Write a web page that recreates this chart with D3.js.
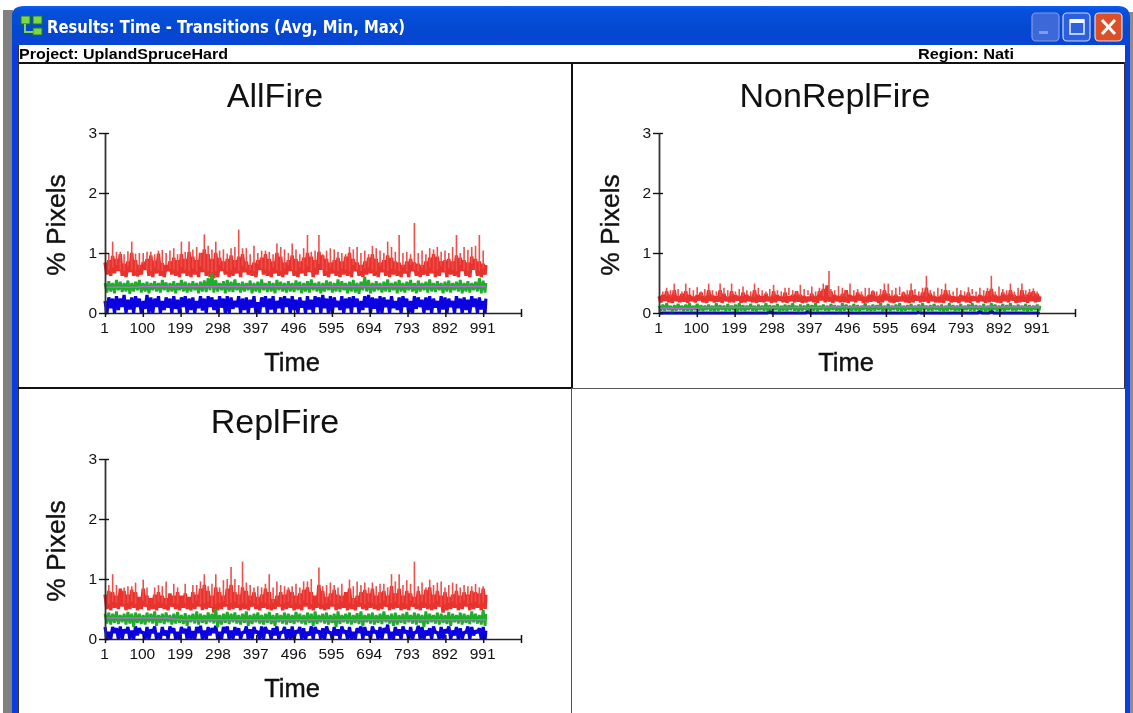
<!DOCTYPE html>
<html>
<head>
<meta charset="utf-8">
<script src="https://cdn.jsdelivr.net/npm/d3@7/dist/d3.min.js"></script>
<style>
    html, body { margin: 0; padding: 0; background: #fff; overflow: hidden; }
    text { font-family: "Liberation Sans", Arial, sans-serif; }
    svg { filter: blur(0.35px); }
</style>
</head>
<body>
<div class="chart"></div>
<script>
// Values, one high/low pair per 10 time steps

var xTicks = [1, 100, 199, 298, 397, 496, 595, 694, 793, 892, 991, 1090];
var yTicks = [0, 1, 2, 3];
var sampleTimes = [1,11,21,31,41,51,61,71,81,91,101,111,121,131,141,151,161,171,181,191,201,211,221,231,241,251,261,271,281,291,301,311,321,331,341,351,361,371,381,391,401,411,421,431,441,451,461,471,481,491,501,511,521,531,541,551,561,571,581,591,601,611,621,631,641,651,661,671,681,691,701,711,721,731,741,751,761,771,781,791,801,811,821,831,841,851,861,871,881,891,901,911,921,931,941,951,961,971,981,991,998];

// AllFire
var allRedTop = [.84,.88,.95,.9,.98,.82,.86,1.0,.88,.8,.85,.9,.96,.87,.99,.83,.8,.86,.92,.88,.98,.9,1.02,.94,.88,1.0,1.06,.98,.9,1.0,.92,.86,.9,.96,.88,.94,.98,.86,.8,.84,.88,.92,.98,.9,.86,1.0,.94,.84,.88,.96,.9,.86,.92,1.0,.94,.88,1.02,.96,.9,.84,.88,.92,.86,.94,1.0,.9,.84,.8,.86,.92,.98,.9,.84,.88,.96,.92,.86,.84,.8,.86,.9,.84,.82,.8,.86,.92,.98,.94,.86,.88,.9,.86,.96,.92,.88,.84,.94,.9,.86,.82,.8];
var allRedBottom = [.64,.62,.66,.7,.62,.6,.68,.62,.61,.64,.72,.62,.6,.66,.62,.6,.7,.64,.62,.6,.66,.62,.6,.64,.6,.68,.62,.6,.58,.6,.7,.64,.6,.62,.66,.6,.68,.64,.62,.6,.72,.64,.62,.6,.66,.62,.6,.64,.7,.62,.6,.66,.62,.68,.6,.64,.72,.62,.6,.66,.62,.6,.64,.62,.6,.7,.62,.6,.64,.66,.62,.6,.68,.62,.6,.64,.62,.6,.66,.6,.7,.62,.6,.64,.62,.66,.6,.62,.68,.6,.64,.62,.6,.7,.62,.6,.72,.62,.6,.64,.62];
var allRedSpikeTimes = [21,41,71,101,121,141,201,221,241,261,291,311,351,371,421,451,491,531,561,601,641,701,741,771,811,871,921,961,981,31,91,171,281,331,391,471,521,581,661,721,791,851,891,941,11,51,61,81,111,131,151,161,181,191,211,231,251,271,301,321,341,361,381,401,411,431,441,461,481,501,511,541,551,571,591,611,621,631,651,671,681,691,711,731,751,761,781,801,821,831,841,861,881,901,911,931,951,971,991];
var allRedSpikeValues = [1.19,1.02,1.19,1.0,1.02,1.04,1.19,1.19,1.1,1.31,1.19,1.06,1.39,1.08,1.04,1.16,1.16,1.3,1.3,1.06,1.1,1.12,1.19,1.3,1.5,1.1,1.3,1.1,1.3,1.02,1.0,1.04,1.06,1.08,1.12,1.06,1.08,1.04,1.1,1.04,1.02,1.08,1.04,1.1,1.0,.98,1.03,.99,1.02,.98,1.05,1.0,1.08,.98,1.02,1.06,1.0,1.12,1.04,.99,1.1,1.08,.98,1.0,1.04,1.02,.98,1.1,1.0,1.06,.98,1.02,1.04,.98,1.08,1.02,1.0,.98,1.06,1.0,1.04,.98,1.08,1.0,1.1,1.02,1.0,.98,1.0,1.04,.98,1.06,1.02,1.0,1.1,1.0,1.05,1.12,1.04];
var allGreenTop = [.5,.53,.5,.55,.52,.5,.54,.5,.52,.55,.5,.52,.5,.53,.5,.55,.51,.5,.53,.5,.55,.52,.5,.53,.5,.52,.54,.58,.66,.55,.5,.53,.55,.52,.56,.5,.52,.5,.54,.5,.52,.56,.5,.53,.5,.55,.52,.5,.53,.5,.54,.52,.5,.53,.56,.5,.52,.5,.54,.52,.5,.56,.53,.5,.52,.55,.5,.52,.6,.55,.5,.53,.5,.52,.56,.5,.52,.55,.5,.52,.55,.5,.54,.5,.52,.56,.5,.53,.5,.52,.54,.5,.52,.55,.5,.53,.5,.52,.58,.54,.5];
var allGreenBottom = [.34,.36,.33,.38,.35,.36,.32,.36,.38,.34,.36,.33,.38,.36,.34,.38,.35,.36,.33,.38,.36,.34,.36,.38,.33,.36,.35,.38,.34,.36,.38,.33,.36,.35,.38,.34,.36,.38,.33,.36,.34,.38,.35,.36,.33,.38,.36,.34,.36,.35,.38,.33,.36,.34,.38,.36,.33,.36,.38,.34,.36,.35,.38,.33,.36,.34,.32,.38,.36,.33,.36,.38,.34,.36,.35,.38,.33,.36,.34,.38,.36,.33,.36,.38,.34,.36,.35,.38,.33,.36,.34,.38,.36,.33,.36,.34,.38,.36,.33,.34,.36];
var allBlueTop = [.2,.26,.24,.28,.24,.3,.22,.26,.28,.24,.2,.3,.26,.24,.28,.2,.26,.24,.28,.22,.26,.28,.24,.26,.2,.28,.24,.28,.26,.22,.28,.24,.28,.26,.2,.28,.24,.26,.22,.28,.18,.26,.28,.24,.28,.2,.26,.28,.24,.28,.22,.26,.2,.28,.22,.28,.26,.3,.24,.28,.26,.2,.28,.24,.26,.28,.24,.2,.28,.3,.26,.24,.28,.26,.22,.28,.2,.26,.28,.24,.2,.28,.26,.22,.26,.28,.24,.2,.28,.26,.24,.2,.28,.24,.26,.22,.28,.24,.26,.2,.24];
var allBlueBottom = [0,.08,0,.05,.1,0,.06,0,.1,0,.07,0,0,.1,0,.05,.09,0,.07,0,.1,0,.05,0,.08,.04,0,.1,.05,0,.09,0,0,.07,.1,0,.05,0,.09,0,0,.1,0,.06,0,.08,0,.1,0,.05,0,.09,0,.06,0,.1,0,.08,0,0,.1,.05,0,.08,0,.1,0,.05,.09,0,.07,0,0,.1,0,.08,.05,0,.1,0,0,.07,.1,0,.05,0,.09,0,.06,0,.1,0,.08,0,.05,0,.1,0,.06,0,0];
var allPurpleTimes = [1, 85, 100, 998];
var allPurpleValues = [.43, .43, .44, .44];

// NonReplFire
var nonRedTop = [.28,.3,.36,.3,.38,.28,.32,.36,.3,.27,.3,.34,.28,.38,.3,.28,.38,.32,.27,.36,.3,.28,.34,.3,.27,.38,.3,.28,.32,.27,.36,.3,.27,.34,.28,.3,.36,.3,.28,.27,.32,.28,.36,.4,.46,.36,.3,.28,.32,.38,.3,.28,.34,.3,.27,.3,.36,.28,.3,.38,.32,.28,.3,.27,.34,.3,.38,.3,.28,.34,.42,.32,.28,.27,.3,.38,.3,.28,.27,.3,.28,.34,.28,.27,.3,.28,.36,.4,.3,.28,.34,.3,.38,.3,.28,.38,.3,.34,.36,.32,.28];
var nonRedBottom = [.18,.2,.18,.17,.2,.18,.19,.17,.2,.18,.21,.18,.17,.2,.18,.19,.17,.2,.18,.18,.21,.17,.18,.2,.18,.17,.19,.18,.2,.17,.18,.21,.18,.17,.2,.18,.19,.17,.18,.2,.18,.17,.21,.18,.19,.17,.2,.18,.18,.17,.2,.18,.21,.17,.18,.19,.2,.17,.18,.21,.18,.17,.19,.2,.18,.17,.18,.21,.18,.19,.17,.2,.18,.18,.17,.21,.18,.19,.17,.2,.18,.17,.21,.18,.2,.17,.18,.19,.18,.17,.2,.18,.21,.17,.18,.19,.17,.2,.18,.19,.18];
var nonRedSpikeTimes = [41,71,131,161,191,251,301,371,431,446,501,591,601,661,701,751,871,921,951,981,21,101,221,341,401,471,541,631,731,811,841,891,11,31,51,61,81,91,111,121,141,151,171,181,201,211,231,241,261,271,281,291,311,321,331,351,361,381,391,411,421,451,461,481,491,511,521,531,551,561,571,581,611,621,641,651,671,681,691,711,721,741,761,771,781,791,801,821,831,851,861,881,901,911,931,941,961,971,991];
var nonRedSpikeValues = [.49,.49,.49,.49,.49,.49,.47,.47,.49,.7,.49,.49,.49,.49,.62,.49,.62,.49,.49,.41,.42,.43,.44,.42,.44,.45,.42,.44,.42,.43,.42,.44,.36,.38,.4,.36,.42,.38,.36,.4,.38,.36,.42,.38,.36,.4,.38,.36,.42,.38,.36,.4,.38,.36,.42,.38,.36,.4,.38,.36,.42,.4,.38,.42,.36,.38,.4,.36,.42,.38,.36,.4,.38,.42,.36,.38,.4,.36,.42,.38,.36,.4,.38,.36,.42,.38,.36,.4,.36,.38,.42,.36,.4,.38,.36,.42,.38,.4,.36];
var nonGreenTop = [.12,.14,.16,.12,.13,.15,.12,.14,.16,.12,.15,.13,.12,.14,.12,.16,.13,.12,.15,.12,.14,.16,.13,.12,.15,.12,.14,.12,.16,.13,.12,.15,.12,.14,.13,.16,.12,.14,.12,.15,.13,.16,.12,.14,.12,.15,.13,.12,.16,.14,.12,.15,.13,.12,.16,.12,.14,.13,.16,.12,.15,.12,.14,.16,.12,.13,.15,.12,.14,.16,.12,.13,.15,.12,.14,.12,.16,.13,.12,.15,.12,.14,.16,.13,.12,.15,.12,.16,.14,.12,.15,.13,.16,.12,.14,.12,.15,.13,.12,.14,.12];
var nonGreenBottom = [.04,.03,.05,.02,.04,.05,.03,.04,.02,.05,.04,.03,.05,.04,.02,.04,.05,.03,.04,.05,.02,.04,.03,.05,.04,.02,.05,.04,.03,.04,.05,.02,.04,.03,.05,.04,.02,.04,.05,.03,.04,.02,.05,.04,.03,.05,.04,.02,.04,.05,.03,.04,.02,.05,.04,.03,.04,.05,.02,.04,.03,.05,.04,.02,.04,.05,.03,.04,.02,.05,.04,.03,.05,.04,.02,.04,.05,.03,.04,.02,.05,.04,.03,.05,.04,.02,.04,.05,.03,.04,.02,.05,.04,.03,.05,.04,.02,.04,.05,.04,.04];
var nonBlueTop = [0,0,0,0,0,0,0,0,0,0,0,0,0,0,0,0,0,0,0,0,0,0,0,0,0,0,0,0,0,.05,0,0,0,0,0,0,0,0,0,.03,0,0,0,0,0,0,0,0,0,0,0,0,0,0,0,0,0,0,0,0,0,0,0,0,0,0,0,0,.02,0,0,0,0,0,0,0,0,0,0,0,0,0,0,0,.03,0,0,.05,0,0,0,0,0,0,0,0,0,0,0,0,0];
var nonBlueBottom = [0,0,0,0,0,0,0,0,0,0,0,0,0,0,0,0,0,0,0,0,0,0,0,0,0,0,0,0,0,0,0,0,0,0,0,0,0,0,0,0,0,0,0,0,0,0,0,0,0,0,0,0,0,0,0,0,0,0,0,0,0,0,0,0,0,0,0,0,0,0,0,0,0,0,0,0,0,0,0,0,0,0,0,0,0,0,0,0,0,0,0,0,0,0,0,0,0,0,0,0,0];
var nonPurpleTimes = [1, 100, 115, 430, 445, 998];
var nonPurpleValues = [.08, .08, .09, .09, .1, .1];

// ReplFire
var repRedTop = [.74,.8,.78,.72,.84,.8,.74,.82,.78,.7,.84,.72,.68,.74,.78,.72,.68,.76,.72,.78,.72,.76,.7,.78,.74,.84,.9,.8,.72,.86,.78,.72,.84,.9,.78,.74,.86,.8,.72,.78,.7,.74,.84,.78,.66,.72,.78,.74,.82,.78,.72,.76,.82,.86,.78,.72,.9,.8,.7,.76,.82,.74,.72,.78,.84,.68,.72,.78,.82,.76,.84,.72,.78,.8,.72,.88,.76,.84,.72,.8,.76,.7,.8,.74,.82,.86,.74,.8,.72,.78,.7,.74,.8,.72,.78,.74,.8,.78,.76,.84,.74];
var repRedBottom = [.5,.48,.52,.5,.54,.48,.5,.52,.48,.5,.54,.48,.5,.48,.52,.5,.48,.54,.5,.48,.52,.5,.48,.5,.54,.48,.5,.52,.44,.48,.5,.54,.48,.5,.52,.48,.5,.48,.54,.5,.48,.52,.5,.48,.5,.54,.48,.5,.52,.48,.5,.48,.54,.5,.48,.52,.5,.48,.5,.54,.48,.5,.52,.48,.5,.48,.54,.5,.48,.52,.5,.48,.5,.54,.48,.5,.52,.48,.5,.48,.54,.5,.48,.52,.5,.48,.5,.54,.44,.48,.5,.52,.48,.5,.54,.48,.5,.52,.48,.5,.5];
var repRedSpikeTimes = [21,101,261,291,331,341,361,431,561,641,751,771,811,851,921,991,31,71,131,181,231,311,381,411,471,521,601,681,721,791,871,951,11,51,61,81,111,141,151,161,191,211,241,251,271,281,301,321,351,371,391,401,421,441,451,461,481,491,501,511,531,541,571,581,591,611,621,651,661,671,691,701,711,731,741,761,781,801,821,831,841,861,881,891,901,911,931,941,961,971,981];
var repRedSpikeValues = [1.08,.99,1.08,1.08,1.2,1.0,1.29,1.08,1.19,.99,1.08,1.08,1.29,.99,.92,.88,.9,.88,.86,.92,.9,.98,.9,.86,.88,.96,.9,.94,.92,.98,.94,.88,.9,.86,.88,.94,.86,.9,.88,.96,.86,.92,.9,.96,.88,.92,.86,1.0,.9,.94,.86,.88,.92,.86,.96,.9,.86,.88,.92,.86,.96,1.0,.88,.9,.94,.86,.92,.88,.96,.9,.86,.94,.88,.92,.86,.96,.9,.92,.88,.94,.86,.9,.96,.86,.9,.94,.86,.9,.88,.92,.86];
var repGreenTop = [.42,.44,.42,.46,.4,.42,.45,.42,.44,.42,.4,.44,.42,.46,.4,.42,.44,.4,.42,.45,.4,.43,.4,.42,.46,.42,.4,.44,.42,.5,.4,.42,.45,.42,.44,.4,.42,.46,.4,.42,.44,.4,.42,.45,.4,.43,.4,.44,.42,.4,.45,.42,.4,.44,.42,.46,.4,.42,.44,.4,.42,.46,.4,.42,.44,.4,.43,.46,.4,.42,.44,.4,.42,.46,.4,.42,.44,.4,.42,.45,.4,.44,.42,.4,.46,.42,.4,.44,.42,.4,.45,.42,.4,.44,.42,.4,.46,.42,.4,.48,.42];
var repGreenBottom = [.26,.24,.27,.25,.28,.24,.26,.2,.27,.25,.24,.28,.26,.22,.27,.25,.28,.24,.26,.27,.25,.22,.28,.26,.24,.27,.25,.28,.26,.2,.24,.27,.25,.28,.26,.24,.27,.22,.25,.28,.26,.24,.27,.25,.22,.28,.26,.24,.27,.25,.28,.26,.24,.27,.22,.25,.28,.26,.24,.27,.2,.25,.28,.26,.24,.27,.25,.22,.28,.26,.24,.27,.25,.28,.26,.22,.24,.27,.25,.28,.26,.24,.27,.2,.25,.28,.26,.24,.27,.25,.22,.28,.26,.24,.27,.25,.28,.26,.24,.22,.26];
var repBlueTop = [.2,.12,.2,.18,.21,.16,.2,.14,.21,.18,.12,.2,.16,.21,.1,.2,.14,.21,.18,.12,.2,.17,.21,.13,.2,.22,.14,.2,.18,.22,.12,.2,.21,.14,.2,.18,.12,.21,.16,.2,.13,.21,.2,.14,.18,.21,.12,.2,.16,.21,.14,.2,.18,.12,.21,.2,.14,.18,.21,.12,.2,.16,.21,.14,.2,.12,.18,.21,.2,.13,.21,.14,.2,.18,.24,.12,.2,.16,.21,.14,.2,.12,.22,.2,.14,.18,.21,.12,.2,.16,.21,.14,.2,.18,.12,.21,.2,.14,.18,.2,.14];
var repBlueBottom = [0,0,.1,0,0,.1,0,0,.06,.1,0,0,.1,0,0,.06,0,.1,0,0,.1,0,0,0,.1,0,0,.06,.1,0,0,.1,0,0,.06,0,.1,0,0,.1,0,0,.1,0,.06,0,.1,0,0,0,.1,0,0,.06,0,.1,0,0,.1,0,.06,0,.1,0,0,0,.1,0,.06,0,.1,0,0,.1,0,0,.06,0,.1,0,0,.1,0,0,.06,0,.1,0,0,.1,0,.06,0,0,.1,0,.06,.1,0,0,0];
var repPurpleTimes = [1, 160, 200, 998];
var repPurpleValues = [.35, .35, .32, .32];

var panels = [
    { name: "AllFire", col: 0, row: 0, redTop: allRedTop, redBottom: allRedBottom, spikeTimes: allRedSpikeTimes, spikeValues: allRedSpikeValues, greenTop: allGreenTop, greenBottom: allGreenBottom, blueTop: allBlueTop, blueBottom: allBlueBottom, purpleTimes: allPurpleTimes, purpleValues: allPurpleValues },
    { name: "NonReplFire", col: 1, row: 0, redTop: nonRedTop, redBottom: nonRedBottom, spikeTimes: nonRedSpikeTimes, spikeValues: nonRedSpikeValues, greenTop: nonGreenTop, greenBottom: nonGreenBottom, blueTop: nonBlueTop, blueBottom: nonBlueBottom, purpleTimes: nonPurpleTimes, purpleValues: nonPurpleValues },
    { name: "ReplFire", col: 0, row: 1, redTop: repRedTop, redBottom: repRedBottom, spikeTimes: repRedSpikeTimes, spikeValues: repRedSpikeValues, greenTop: repGreenTop, greenBottom: repGreenBottom, blueTop: repBlueTop, blueBottom: repBlueBottom, purpleTimes: repPurpleTimes, purpleValues: repPurpleValues }
];

var svgWidth = 1133;
var svgHeight = 713;
var colWidth = 554;
var rowHeight = 326;

var svg = d3.select(".chart").append("svg")
    .attr("width", svgWidth)
    .attr("height", svgHeight)
    .style("display", "block");

var defs = svg.append("defs");
var titleGrad = defs.append("linearGradient").attr("id", "titleGrad").attr("x1", 0).attr("x2", 0).attr("y1", 0).attr("y2", 1);
titleGrad.append("stop").attr("offset", "0").attr("stop-color", "#0a5cf0");
titleGrad.append("stop").attr("offset", "0.12").attr("stop-color", "#0650dc");
titleGrad.append("stop").attr("offset", "0.6").attr("stop-color", "#0448d0");
titleGrad.append("stop").attr("offset", "1").attr("stop-color", "#0a44d4");

// window frame
svg.append("rect").attr("x", 3).attr("y", 10).attr("width", 10).attr("height", 703).attr("fill", "#808080");
svg.append("rect").attr("x", 1129).attr("y", 12).attr("width", 4).attr("height", 701).attr("fill", "#8c8c8c");
svg.append("rect").attr("x", 12).attr("y", 20).attr("width", 1118).attr("height", 693).attr("fill", "#0a3ce0");
svg.append("path")
    .attr("d", "M12,45V16Q12,6 24,6H1118Q1130,6 1130,18V45Z")
    .attr("fill", "url(#titleGrad)");
svg.append("rect").attr("x", 18).attr("y", 45).attr("width", 1107).attr("height", 668).attr("fill", "#fff");

// title bar
var icon = svg.append("g").attr("fill", "#7fd64a").attr("stroke", "#1f7a1f").attr("stroke-width", 1);
icon.append("rect").attr("x", 21).attr("y", 16).attr("width", 9).attr("height", 8);
icon.append("rect").attr("x", 33).attr("y", 16).attr("width", 9).attr("height", 8);
icon.append("rect").attr("x", 33).attr("y", 28).attr("width", 9).attr("height", 7);
icon.append("path").attr("d", "M25,24V32H33").attr("fill", "none").attr("stroke", "#7fd64a").attr("stroke-width", 2);

svg.append("text").attr("x", 47).attr("y", 33)
    .attr("fill", "#fff").attr("font-size", 17).attr("font-weight", "bold")
    .attr("textLength", 358).attr("lengthAdjust", "spacingAndGlyphs")
    .style("font-family", "'DejaVu Sans'")
    .text("Results: Time - Transitions (Avg, Min, Max)");

var buttons = [[1032, "#3c68d8", "#7f9ce8"], [1063, "#2f60dc", "#c8d8f8"], [1095, "#d9502a", "#e8d8d8"]];
svg.selectAll(".winbtn").data(buttons).enter().append("rect")
    .attr("class", "winbtn")
    .attr("x", d => d[0]).attr("y", 13).attr("width", 27).attr("height", 28).attr("rx", 4)
    .attr("fill", d => d[1]).attr("stroke", d => d[2]).attr("stroke-width", 1.2);
svg.append("rect").attr("x", 1039).attr("y", 31).attr("width", 9).attr("height", 3).attr("fill", "#7f9ce8");
svg.append("rect").attr("x", 1070).attr("y", 20).attr("width", 14).attr("height", 14).attr("fill", "none").attr("stroke", "#e8f0ff").attr("stroke-width", 1.5);
svg.append("rect").attr("x", 1070).attr("y", 19).attr("width", 14).attr("height", 4).attr("fill", "#f4f8ff");
svg.append("path").attr("d", "M1102,20L1115,34M1115,20L1102,34").attr("stroke", "#fff").attr("stroke-width", 3).attr("fill", "none");

// project bar
svg.append("text").attr("x", 19).attr("y", 59).attr("font-size", 14).attr("font-weight", "bold")
    .attr("textLength", 209).attr("lengthAdjust", "spacingAndGlyphs").text("Project: UplandSpruceHard");
svg.append("text").attr("x", 918).attr("y", 59).attr("font-size", 14).attr("font-weight", "bold")
    .attr("textLength", 96).attr("lengthAdjust", "spacingAndGlyphs").text("Region: Nati");

// panel borders
svg.append("rect").attr("x", 18).attr("y", 62).attr("width", 1107).attr("height", 2).attr("fill", "#111");
svg.append("rect").attr("x", 18).attr("y", 45).attr("width", 1).attr("height", 668).attr("fill", "#333");
svg.append("rect").attr("x", 1124).attr("y", 62).attr("width", 1).attr("height", 326).attr("fill", "#333");
svg.append("rect").attr("x", 571).attr("y", 64).attr("width", 2).attr("height", 324).attr("fill", "#111");
svg.append("rect").attr("x", 571).attr("y", 388).attr("width", 1).attr("height", 325).attr("fill", "#555");
svg.append("rect").attr("x", 18).attr("y", 387).attr("width", 553).attr("height", 2).attr("fill", "#111");
svg.append("rect").attr("x", 571).attr("y", 388).attr("width", 554).attr("height", 1).attr("fill", "#555");

var xScale = d3.scaleLinear().domain([1, 1090]).range([0, 416]);
var yScale = d3.scaleLinear().domain([0, 3]).range([0, -180]);

// each series swings between its high and its low, so draw it as one zigzag line
function zigzag(top, bottom) {
    var points = [];
    sampleTimes.forEach(function (t, i) {
        points.push([t, top[i]]);
        if (i < sampleTimes.length - 1) {
            points.push([t + 5, bottom[i]]);
        }
    });
    return d3.line()
        .x(d => xScale(d[0]))
        .y(d => yScale(d[1]))(points);
}

function drawPanel(p) {
    var g = svg.append("g")
        .attr("transform", `translate(${105 + p.col * colWidth}, ${313 + p.row * rowHeight})`);

    g.append("path").attr("d", zigzag(p.blueTop, p.blueBottom))
        .attr("fill", "none").attr("stroke", "#0a00e0").attr("stroke-width", 3.2).attr("stroke-linejoin", "bevel");
    g.append("path").attr("d", zigzag(p.redTop, p.redBottom))
        .attr("fill", "none").attr("stroke", "#e8322d").attr("stroke-width", 3.4).attr("stroke-linejoin", "bevel");

    g.selectAll(".spike").data(p.spikeTimes).enter().append("line")
        .attr("class", "spike")
        .attr("x1", d => xScale(d)).attr("x2", d => xScale(d))
        .attr("y1", (d, i) => yScale(p.redBottom[Math.round((d - 1) / 10)] + 0.1))
        .attr("y2", (d, i) => yScale(p.spikeValues[i]))
        .attr("stroke", "#ee4f4a").attr("stroke-width", 1.6);

    g.append("path").attr("d", zigzag(p.greenTop, p.greenBottom))
        .attr("fill", "none").attr("stroke", "#1fae2a").attr("stroke-width", 2.8).attr("stroke-linejoin", "bevel");

    var purpleLine = d3.line()
        .x(d => xScale(d[0]))
        .y(d => yScale(d[1]));
    g.append("path")
        .attr("d", purpleLine(p.purpleTimes.map((t, i) => [t, p.purpleValues[i]])))
        .attr("fill", "none").attr("stroke", "#b468d2").attr("stroke-width", 1.5);

    var xAxis = d3.axisBottom(xScale)
        .tickValues(xTicks)
        .tickSizeOuter(0)
        .tickFormat(d => d == 1090 ? "" : d);
    var xG = g.append("g").call(xAxis);
    xG.select(".domain").attr("stroke", "#222").attr("stroke-width", 1.5);
    xG.selectAll(".tick line").attr("y1", -4).attr("y2", 4).attr("stroke", "#111").attr("stroke-width", 1.5);
    xG.selectAll(".tick text").attr("y", 9).attr("x", -1).attr("font-size", 15.5).attr("fill", "#111")
        .style("font-family", "'Liberation Sans'");

    var yAxis = d3.axisLeft(yScale)
        .tickValues(yTicks)
        .tickSizeOuter(0)
        .tickFormat(d3.format("d"));
    var yG = g.append("g").call(yAxis);
    yG.select(".domain").attr("stroke", "#333").attr("stroke-width", 1.8);
    yG.selectAll(".tick line").attr("x1", -6).attr("x2", 4).attr("stroke", "#111").attr("stroke-width", 1.4);
    yG.selectAll(".tick text").attr("x", -8).attr("font-size", 15.5).attr("fill", "#111")
        .style("font-family", "'Liberation Sans'");

    g.append("text")
        .attr("x", 170 + (p.col ? 6 : 0)).attr("y", -206)
        .attr("text-anchor", "middle").attr("font-size", 34).attr("fill", "#111")
        .text(p.name);

    g.append("text")
        .attr("x", 187).attr("y", 58)
        .attr("text-anchor", "middle").attr("font-size", 25.5).attr("fill", "#111")
        .attr("stroke", "#111").attr("stroke-width", 0.4)
        .text("Time");

    g.append("text")
        .attr("transform", "rotate(-90)")
        .attr("x", 88).attr("y", -40)
        .attr("text-anchor", "middle").attr("font-size", 26.5).attr("fill", "#111")
        .attr("stroke", "#111").attr("stroke-width", 0.4)
        .text("% Pixels");
}

panels.forEach(drawPanel);
</script>
</body>
</html>
